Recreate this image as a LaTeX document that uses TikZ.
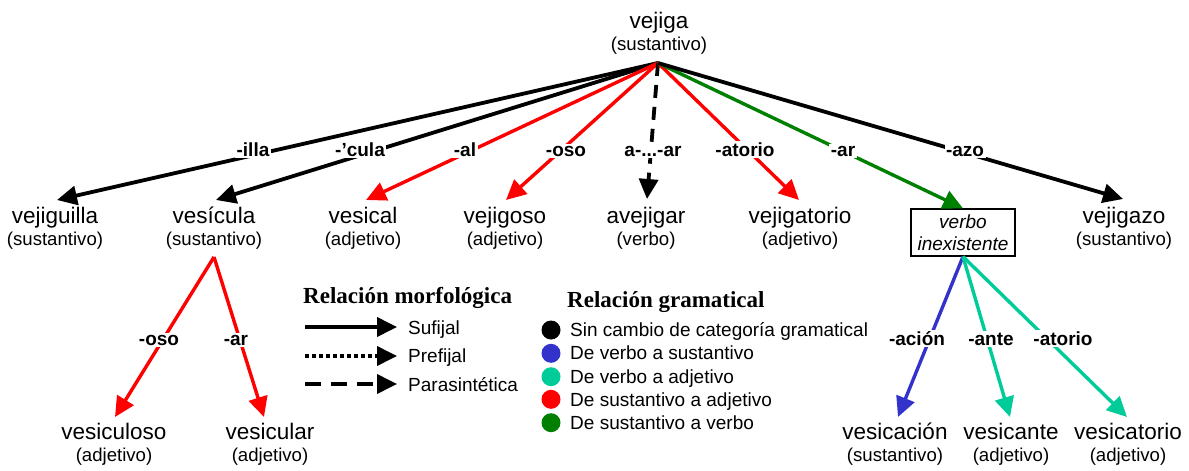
\documentclass[tikz,border=0pt]{standalone}
\usepackage{fontspec}
\setmainfont{Liberation Sans}
\newfontfamily\titlefont{Liberation Serif}
\usetikzlibrary{arrows.meta}
\definecolor{cred}{RGB}{255,0,0}
\definecolor{cgreen}{RGB}{0,128,0}
\definecolor{cblue}{RGB}{51,51,204}
\definecolor{cteal}{RGB}{0,204,153}
\begin{document}
\begin{tikzpicture}[x=1pt,y=-1pt,
  word/.style={anchor=base, inner sep=0pt, font=\fontsize{22.5}{26}\selectfont},
  cat/.style={anchor=base, inner sep=0pt, font=\fontsize{18.6}{22}\selectfont},
  lab/.style={anchor=base, fill=white, inner sep=1.5pt, font=\fontsize{19}{22}\selectfont\bfseries},
  leg/.style={anchor=base west, inner sep=0pt, font=\fontsize{19}{22}\selectfont},
  legtitle/.style={anchor=base west, inner sep=0pt, font=\fontsize{23}{26}\selectfont\titlefont\bfseries},
  rel/.style={line width=3.8pt, -{Triangle[length=20pt,width=19pt]}},
  crel/.style={line width=3.4pt, -{Triangle[length=20pt,width=19pt]}},
  dot/.style={circle, inner sep=0pt, minimum size=19pt},
  boxnode/.style={draw, line width=1.3pt, minimum width=104pt, minimum height=47pt, inner sep=0pt, align=center, font=\fontsize{19}{22}\selectfont\itshape}
]
\useasboundingbox (0,0) rectangle (1189,471);

% root
\node[word] (root) at (659,28) {vejiga};
\node[cat] (roots) at (659,50) {(sustantivo)};
\coordinate (apex) at (658,63);

% level 1 words
\node[word] (w1) at (55,223) {vejiguilla};
\node[cat] (w1s) at (55,245) {(sustantivo)};
\node[word] (w2) at (214,223) {vesícula};
\node[cat] (w2s) at (214,245) {(sustantivo)};
\node[word] (w3) at (363,223) {vesical};
\node[cat] (w3s) at (363,245) {(adjetivo)};
\node[word] (w4) at (505,223) {vejigoso};
\node[cat] (w4s) at (505,245) {(adjetivo)};
\node[word] (w5) at (646,223) {avejigar};
\node[cat] (w5s) at (646,245) {(verbo)};
\node[word] (w6) at (800,223) {vejigatorio};
\node[cat] (w6s) at (800,245) {(adjetivo)};
\node[boxnode] (vb) at (963,232.5) {verbo\\inexistente};
\node[word] (w8) at (1124,223) {vejigazo};
\node[cat] (w8s) at (1124,245) {(sustantivo)};

% bottom words
\node[word] (b1) at (114,439) {vesiculoso};
\node[cat] (b1s) at (114,461) {(adjetivo)};
\node[word] (b2) at (270,439) {vesicular};
\node[cat] (b2s) at (270,461) {(adjetivo)};
\node[word] (b3) at (895,439) {vesicación};
\node[cat] (b3s) at (895,461) {(sustantivo)};
\node[word] (b4) at (1011,439) {vesicante};
\node[cat] (b4s) at (1011,461) {(adjetivo)};
\node[word] (b5) at (1128,439) {vesicatorio};
\node[cat] (b5s) at (1128,461) {(adjetivo)};

% tips
\coordinate (t1) at (57,200);
\coordinate (t2) at (216,200);
\coordinate (t3) at (366,200);
\coordinate (t4) at (506,200);
\coordinate (t5) at (647,199);
\coordinate (t6) at (799,200);
\coordinate (t8) at (1123,199);
\coordinate (apex2) at (214,257);
\coordinate (tb1) at (115,417);
\coordinate (tb2) at (264,417);
\coordinate (tb3) at (898,417);
\coordinate (tb4) at (1010,417);
\coordinate (tb5) at (1127,417);

% connectors
\draw[rel] (apex) -- (t1);
\draw[rel] (apex) -- (t2);
\draw[crel, cred] (apex) -- (t3);
\draw[crel, cred] (apex) -- (t4);
\draw[rel, dash pattern=on 13pt off 9pt] (apex) -- (t5);
\draw[crel, cred] (apex) -- (t6);
\draw[crel, cgreen] (apex) -- (vb.north);
\draw[rel] (apex) -- (t8);
\draw[crel, cred] (apex2) -- (tb1);
\draw[crel, cred] (apex2) -- (tb2);
\draw[crel, cblue] (vb.south) -- (tb3);
\draw[crel, cteal] (vb.south) -- (tb4);
\draw[crel, cteal] (vb.south) -- (tb5);

% labels
\node[lab] (l1) at (253,156) {-illa};
\node[lab] (l2) at (360,156) {-’cula};
\node[lab] (l3) at (465,156) {-al};
\node[lab] (l4) at (566,156) {-oso};
\node[lab] (l5) at (653,156) {a-...-ar};
\node[lab] (l6) at (745,156) {-atorio};
\node[lab] (l7) at (843,156) {-ar};
\node[lab] (l8) at (965,156) {-azo};
\node[lab] (lb1) at (159,345) {-oso};
\node[lab] (lb2) at (236,345) {-ar};
\node[lab] (lb3) at (917,345) {-ación};
\node[lab] (lb4) at (991,345) {-ante};
\node[lab] (lb5) at (1063,345) {-atorio};

% legend 1
\node[legtitle] (lt1) at (303,303) {Relación morfológica};
\coordinate (m1a) at (305,327); \coordinate (m1b) at (397,327);
\coordinate (m2a) at (305,356); \coordinate (m2b) at (397,356);
\coordinate (m3a) at (305,384); \coordinate (m3b) at (397,384);
\draw[rel] (m1a) -- (m1b);
\draw[rel, dash pattern=on 4pt off 3pt] (m2a) -- (m2b);
\draw[rel, dash pattern=on 16pt off 10pt] (m3a) -- (m3b);
\node[leg] (ml1) at (408,334) {Sufijal};
\node[leg] (ml2) at (408,362.5) {Prefijal};
\node[leg] (ml3) at (408,391) {Parasintética};

% legend 2
\node[legtitle] (lt2) at (567,307) {Relación gramatical};
\node[dot, fill=black] (d1) at (551,330) {};
\node[dot, fill=cblue] (d2) at (551,353.3) {};
\node[dot, fill=cteal] (d3) at (551,376.7) {};
\node[dot, fill=cred] (d4) at (551,399.3) {};
\node[dot, fill=cgreen] (d5) at (551,422.7) {};
\node[leg] (g1) at (570,336) {Sin cambio de categoría gramatical};
\node[leg] (g2) at (570,359.5) {De verbo a sustantivo};
\node[leg] (g3) at (570,383) {De verbo a adjetivo};
\node[leg] (g4) at (570,406) {De sustantivo a adjetivo};
\node[leg] (g5) at (570,429.5) {De sustantivo a verbo};
\end{tikzpicture}
\end{document}
